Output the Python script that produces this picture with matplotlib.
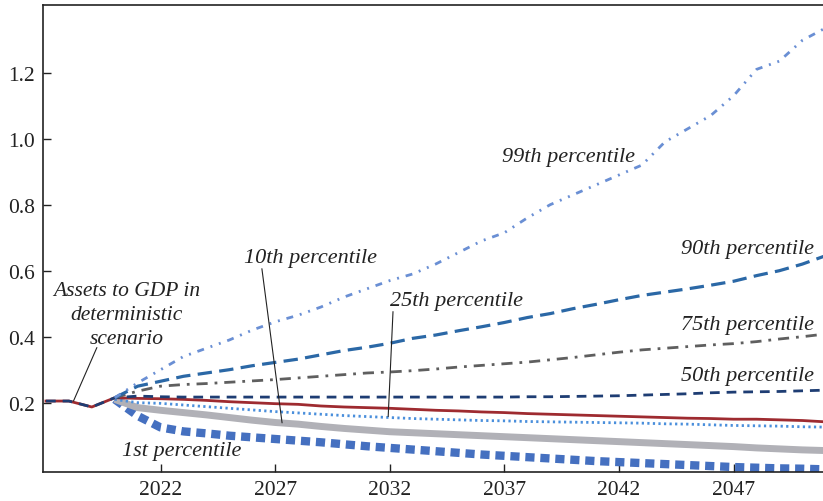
import matplotlib
matplotlib.use("Agg")
import matplotlib.pyplot as plt

plt.rcParams['font.family'] = ['Liberation Serif', 'DejaVu Serif']

# history (deterministic and median share it)
hist_years = [2017, 2018, 2019, 2020]
hist_vals = [0.205, 0.205, 0.187, 0.215]

years = list(range(2020, 2052))
deterministic = [0.215, 0.213, 0.212, 0.21, 0.207, 0.203, 0.2, 0.197, 0.195, 0.19, 0.187,
                 0.185, 0.183, 0.18, 0.177, 0.175, 0.172, 0.17, 0.167, 0.165, 0.163, 0.161,
                 0.159, 0.157, 0.155, 0.153, 0.152, 0.15, 0.15, 0.148, 0.146, 0.142]
p99 = [0.215, 0.26, 0.30, 0.34, 0.365, 0.39, 0.42, 0.445, 0.465, 0.49, 0.52,
       0.545, 0.57, 0.59, 0.62, 0.655, 0.69, 0.715, 0.76, 0.80, 0.83, 0.86,
       0.89, 0.92, 0.99, 1.03, 1.07, 1.13, 1.21, 1.235, 1.298, 1.335]
p90 = [0.215, 0.25, 0.265, 0.28, 0.29, 0.30, 0.312, 0.322, 0.332, 0.345, 0.358,
       0.368, 0.38, 0.395, 0.405, 0.418, 0.43, 0.443, 0.458, 0.47, 0.485, 0.498,
       0.512, 0.525, 0.535, 0.545, 0.556, 0.568, 0.585, 0.60, 0.62, 0.645]
p75 = [0.215, 0.235, 0.25, 0.255, 0.258, 0.262, 0.266, 0.27, 0.275, 0.28, 0.285,
       0.29, 0.293, 0.297, 0.302, 0.308, 0.313, 0.318, 0.323, 0.33, 0.337, 0.345,
       0.353, 0.36, 0.365, 0.37, 0.375, 0.379, 0.385, 0.393, 0.40, 0.408]
p50 = [0.215, 0.22, 0.218, 0.217, 0.217, 0.217, 0.217, 0.217, 0.217, 0.217, 0.217,
       0.217, 0.217, 0.217, 0.217, 0.217, 0.217, 0.217, 0.218, 0.218, 0.219, 0.22,
       0.221, 0.223, 0.225, 0.227, 0.23, 0.232, 0.233, 0.234, 0.236, 0.238]
p25 = [0.21, 0.20, 0.198, 0.193, 0.188, 0.183, 0.178, 0.173, 0.169, 0.165, 0.161,
       0.158, 0.155, 0.152, 0.15, 0.148, 0.146, 0.145, 0.143, 0.142, 0.141, 0.14,
       0.139, 0.138, 0.136, 0.135, 0.133, 0.131, 0.13, 0.129, 0.127, 0.126]
p10 = [0.21, 0.185, 0.177, 0.17, 0.163, 0.155, 0.147, 0.14, 0.135, 0.128, 0.122,
       0.117, 0.112, 0.109, 0.106, 0.103, 0.1, 0.097, 0.094, 0.091, 0.088, 0.085,
       0.082, 0.079, 0.076, 0.073, 0.07, 0.067, 0.063, 0.06, 0.057, 0.055]
p1 = [0.21, 0.16, 0.125, 0.113, 0.107, 0.1, 0.095, 0.09, 0.085, 0.08, 0.074,
      0.068, 0.063, 0.058, 0.053, 0.048, 0.043, 0.039, 0.035, 0.031, 0.027, 0.023,
      0.02, 0.017, 0.014, 0.011, 0.008, 0.005, 0.003, 0.001, 0.0, -0.002]

xticks = [2022, 2027, 2032, 2037, 2042, 2047]
yticks = [0.2, 0.4, 0.6, 0.8, 1.0, 1.2]

fig = plt.figure(figsize=(8.23, 5.02), dpi=100)
ax = fig.add_axes([43/823, 1 - 473/502, 1 - 43/823, (473 - 6)/502])

ax.plot(years, p1, color='#4570c0', lw=6, dashes=(1.1, 0.7), solid_capstyle='butt')
ax.plot(years, p10, color='#b1b1b7', lw=5, solid_capstyle='butt')
ax.plot(years, p25, color='#4a8fdc', lw=2, dashes=(0.8, 1.2))
ax.plot(hist_years + years[1:], hist_vals + deterministic[1:], color='#9e2b30', lw=2)
ax.plot(hist_years + years[1:], hist_vals + p50[1:], color='#1e3d73', lw=2, dashes=(3.5, 2.5))
ax.plot(years, p75, color='#5f5f5f', lw=2, dashes=(4, 2.5, 1, 2.5))
ax.plot(years, p90, color='#2b68a6', lw=2.3, dashes=(4.5, 2.3))
ax.plot(years, p99, color='#6a8fd4', lw=2, dashes=(2.5, 2.5, 0.7, 2.5, 0.7, 2.5))

ax.set_xlim(2016.87, 2050.9)
ax.set_ylim(-0.01, 1.405)
ax.set_xticks(xticks)
ax.set_yticks(yticks)
ax.set_yticklabels([f"{v:.1f}" for v in yticks])
ax.tick_params(direction='in', length=6, width=1, labelsize=15.5, colors='#222222', pad=6)
ax.spines['right'].set_visible(False)
for s in ['left', 'top', 'bottom']:
    ax.spines[s].set_linewidth(1.2)
    ax.spines[s].set_color('#222222')

lab = dict(fontsize=16, style='italic', color='#222222', ha='center', va='center')
ax.text(2039.8, 0.945, "99th percentile", **lab)
ax.text(2047.6, 0.667, "90th percentile", **lab)
ax.text(2047.6, 0.436, "75th percentile", **lab)
ax.text(2047.6, 0.282, "50th percentile", **lab)
ax.text(2034.9, 0.509, "25th percentile", **lab)
ax.text(2028.56, 0.639, "10th percentile", **lab)
ax.text(2022.93, 0.055, "1st percentile", **lab)
lab['fontsize'] = 15.5
ax.text(2020.53, 0.467, "Assets to GDP in\ndeterministic\nscenario", linespacing=1.33, **lab)

line = dict(arrowstyle='-', color='#222222', lw=0.8, shrinkA=0, shrinkB=0)
ax.annotate("", xy=(2018.2, 0.205), xytext=(2019.22, 0.367), arrowprops=line)
ax.annotate("", xy=(2027.3, 0.139), xytext=(2026.42, 0.606), arrowprops=line)
ax.annotate("", xy=(2031.93, 0.158), xytext=(2032.14, 0.476), arrowprops=line)

fig.savefig("out.png", dpi=100)
